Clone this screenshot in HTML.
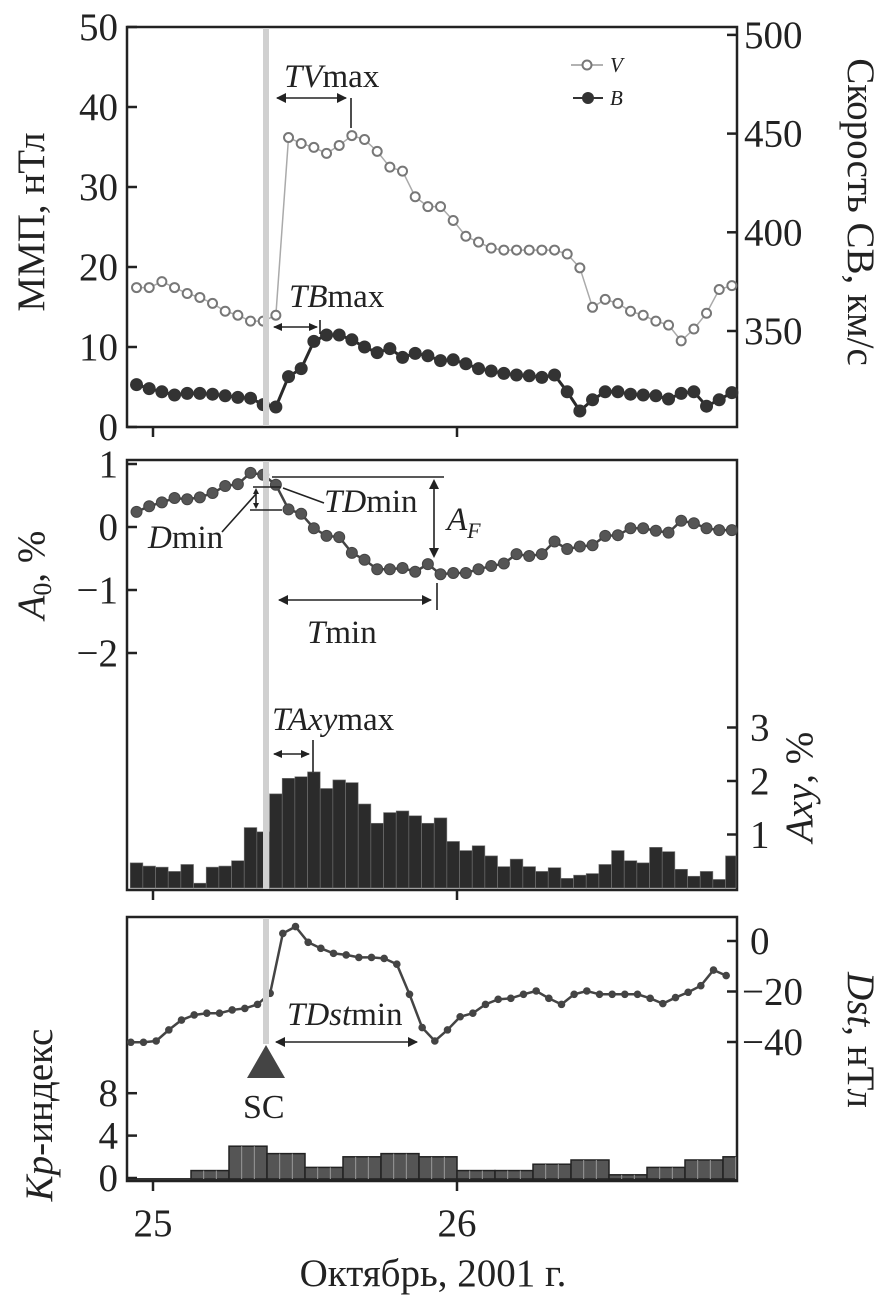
<!DOCTYPE html>
<html><head><meta charset="utf-8"><style>
html,body{margin:0;padding:0;background:#fff}
svg{display:block;font-family:"Liberation Serif",serif}
</style></head><body>
<svg id="chart" width="887" height="1301" viewBox="0 0 887 1301" xmlns="http://www.w3.org/2000/svg">
<g id="frames" fill="none" stroke="#222" stroke-width="2.5">
<rect x="127" y="27" width="610" height="400"/>
<rect x="127" y="460" width="610" height="430"/>
<rect x="127" y="917" width="610" height="264"/>
</g>
<g id="marks"></g>
<g id="sc-line" fill="#d0d0d0">
<rect x="263" y="28" width="6" height="398"/><rect x="263" y="461" width="6" height="428"/><rect x="263" y="918" width="6" height="126"/>
</g>
<g id="axes" font-size="39" fill="#222"></g>
<g stroke="#222" stroke-width="1.6" fill="none">
<line x1="277" y1="98" x2="346" y2="98"/><line x1="351" y1="98" x2="351" y2="128"/>
<line x1="274" y1="327" x2="317" y2="327"/><line x1="320" y1="320" x2="320" y2="334"/>
<line x1="272" y1="477" x2="444" y2="477"/><line x1="434" y1="481" x2="434" y2="556"/>
<line x1="253" y1="487" x2="281" y2="487"/><line x1="250" y1="510" x2="282" y2="510"/><line x1="256" y1="490" x2="256" y2="507"/>
<line x1="256" y1="494" x2="222" y2="532"/><line x1="283" y1="488" x2="324" y2="503"/>
<line x1="279" y1="600" x2="431" y2="600"/><line x1="437" y1="583" x2="437" y2="610"/>
<line x1="274" y1="754" x2="309" y2="754"/><line x1="313" y1="740" x2="313" y2="772"/>
<line x1="276" y1="1042" x2="417" y2="1042"/>
</g>
<g fill="#222">
<path d="M276 98l10-5v10z M347 98l-10-5v10z M273 327l9-4v8z M318 327l-9-4v8z M434 479l-5 10h10z M434 558l-5-10h10z M256 488l-3 6h6z M256 509l-3-6h6z M278 600l10-5v10z M432 600l-10-5v10z M273 754l9-4v8z M310 754l-9-4v8z M275 1042l10-5v10z M418 1042l-10-5v10z"/>
<path d="M266 1045l-19 33h38z" fill="#444"/>
</g>
<g font-size="33" fill="#222">
<text x="284" y="87"><tspan font-style="italic">TV</tspan>max</text>
<text x="289" y="307"><tspan font-style="italic">TB</tspan>max</text>
<text x="324" y="512"><tspan font-style="italic">TD</tspan>min</text>
<text x="148" y="548"><tspan font-style="italic">D</tspan>min</text>
<text x="447" y="530" font-style="italic">A<tspan font-size="22" dy="8">F</tspan></text>
<text x="307" y="643"><tspan font-style="italic">T</tspan>min</text>
<text x="272" y="730"><tspan font-style="italic">TAxy</tspan>max</text>
<text x="287" y="1025"><tspan font-style="italic">TDst</tspan>min</text>
<text x="243" y="1118" font-size="34">SC</text>
</g>
<g>
<line x1="571" y1="65" x2="603" y2="65" stroke="#999" stroke-width="1.5"/><circle cx="587" cy="65" r="4.5" fill="#fff" stroke="#777" stroke-width="2"/>
<text x="610" y="72" font-size="21" font-style="italic" fill="#222">V</text>
<line x1="573" y1="98" x2="603" y2="98" stroke="#333" stroke-width="2"/><circle cx="588" cy="98" r="6" fill="#333"/>
<text x="610" y="105" font-size="21" font-style="italic" fill="#222">B</text>
</g>
</svg>
<script>
const V = [372,372,375,372,369,367,364,360,358,355,355,358,448,445,443,440,444,449,447,441,433,431,418,413,413,406,398,395,392,391,391,391,391,391,389,382,362,366,364,360,358,355,353,345,351,359,371,373];
const B = [5.3,4.8,4.4,4.0,4.2,4.2,4.1,3.9,3.7,3.6,2.8,2.5,6.3,7.3,10.7,11.5,11.5,10.9,10.0,9.3,9.8,8.7,9.2,8.9,8.3,8.4,7.9,7.3,7.0,6.7,6.5,6.4,6.2,6.5,4.4,2.0,3.4,4.4,4.4,4.1,4.0,3.9,3.5,4.2,4.4,2.6,3.4,4.3];
const A0 = [0.24,0.33,0.39,0.46,0.44,0.47,0.54,0.65,0.68,0.86,0.83,0.67,0.28,0.21,-0.02,-0.14,-0.16,-0.41,-0.52,-0.67,-0.67,-0.65,-0.71,-0.59,-0.75,-0.73,-0.73,-0.67,-0.62,-0.58,-0.43,-0.46,-0.43,-0.23,-0.35,-0.31,-0.29,-0.14,-0.13,-0.02,-0.02,-0.06,-0.09,0.10,0.06,-0.02,-0.05,-0.05];
const Axy = [0.47,0.41,0.39,0.31,0.44,0.09,0.39,0.41,0.51,1.13,1.05,1.76,2.05,2.08,2.17,1.86,2.02,1.97,1.57,1.21,1.41,1.44,1.35,1.21,1.31,0.87,0.70,0.79,0.60,0.40,0.54,0.40,0.31,0.38,0.18,0.24,0.27,0.44,0.70,0.51,0.47,0.76,0.68,0.35,0.22,0.31,0.16,0.60];
const Dst = [-40.1,-40.1,-39.6,-35.2,-31.3,-29.3,-28.6,-28.6,-27.3,-26.7,-25.1,-20.7,3.0,5.7,-0.5,-2.9,-4.9,-5.5,-6.5,-6.5,-6.9,-9.2,-21.1,-34.3,-39.6,-35.2,-30.0,-28.6,-25.1,-23.1,-22.7,-21.1,-19.8,-22.7,-25.1,-21.1,-19.8,-21.1,-21.1,-21.1,-21.1,-22.7,-24.8,-22.4,-20.3,-17.7,-11.5,-13.7,-15.8];
const kpStart = [0,3,6,9,12,15,18,21,24,27,30,33,36,39,42,45];
const Kp = [0,0.7,3.0,2.3,1.0,2.0,2.3,2.0,0.7,0.7,1.3,1.7,0.3,1.0,1.7,2.0];
const xTicks = [25,26];
const imfTicks = [0,10,20,30,40,50];
const vTicks = [350,400,450,500];
const a0Ticks = [1,0,-1,-2];
const axyTicks = [1,2,3];
const dstTicks = [0,-20,-40];
const kpTicks = [0,4,8];

const NS = "http://www.w3.org/2000/svg";
const tx = t => 153 + t * 304 / 24;
const dx = d => 153 + (d - 25) * 304;
const yB = v => 427 - v * 8;
const yV = v => 331 - (v - 350) * 98.7 / 50;
const yA0 = v => 527 - v * 63;
const yAxy = v => 888 - v * 53.5;
const yDst = v => 941 - v * 2.525;
const yKp = v => 1178 - v * 10.6;
const tV = i => -1.3 + i;
const tD = i => -1.75 + i;

function mk(tag, attrs, parent) {
  const e = document.createElementNS(NS, tag);
  for (const k in attrs) e.setAttribute(k, attrs[k]);
  parent.appendChild(e);
  return e;
}
const marks = document.getElementById('marks');
const axes = document.getElementById('axes');

const gAxy = mk('g', {}, marks);


Axy.forEach((v, i) => {
  let x0 = Math.max(128, tx(tV(i) - 0.5)), x1 = Math.min(736, tx(tV(i) + 0.5));
  const r = mk('rect', {x: x0, y: yAxy(v), width: x1 - x0, height: 888 - yAxy(v), fill: '#2b2b2b', stroke: '#777', 'stroke-width': 0.6}, gAxy);
  
  
});
const gKp = mk('g', {}, marks);


mk('line', {x1: 128, y1: 1179, x2: 736, y2: 1179, stroke: '#333', 'stroke-width': 2}, gKp);
Kp.forEach((v, i) => {
  if (v <= 0) return;
  const x0 = tx(kpStart[i]), x1 = Math.min(736, tx(kpStart[i] + 3));
  const r = mk('rect', {x: x0, y: yKp(v), width: x1 - x0, height: 1179 - yKp(v), fill: '#555', stroke: '#222', 'stroke-width': 1.5}, gKp);
  
  
  for (let h = 1; h < 3; h++) { const xh = tx(kpStart[i] + h); if (xh < 736) mk('line', {x1: xh, y1: yKp(v), x2: xh, y2: 1179, stroke: '#999', 'stroke-width': 1}, gKp); }
});

function series(name, vals, tf, yf, opts) {
  const g = mk('g', {}, marks);
  
  
  const pts = vals.map((v, i) => [tf(i), yf(v)]).filter(p => tx(p[0]) >= 127 && tx(p[0]) <= 737);
  mk('polyline', {points: pts.map(p => tx(p[0]) + ',' + p[1]).join(' '), fill: 'none', stroke: opts.line, 'stroke-width': opts.lw}, g);
  pts.forEach(p => {
    const c = mk('circle', {cx: tx(p[0]), cy: p[1], r: opts.r, fill: opts.fill, stroke: opts.stroke, 'stroke-width': opts.sw}, g);
    
    
  });
}
series('series-v', V, tV, yV, {line: '#aaa', lw: 1.5, r: 4.5, fill: '#fff', stroke: '#777', sw: 2});
series('series-b', B, tV, yB, {line: '#2a2a2a', lw: 3, r: 6, fill: '#333', stroke: '#333', sw: 1});
series('series-a0', A0, tV, yA0, {line: '#444', lw: 2.5, r: 5.5, fill: '#555', stroke: '#444', sw: 1});
series('series-dst', Dst, tD, yDst, {line: '#444', lw: 2.5, r: 3.3, fill: '#444', stroke: '#444', sw: 1});

function tickL(y, label, name) {
  mk('line', {x1: 127, y1: y, x2: 137, y2: y, stroke: '#222', 'stroke-width': 2.5}, axes);
  const t = mk('text', {x: 118, y: y + 13, 'text-anchor': 'end'}, axes);
  t.textContent = label;
  
  
}
function tickR(y, label, name, xl) {
  mk('line', {x1: 727, y1: y, x2: 737, y2: y, stroke: '#222', 'stroke-width': 2.5}, axes);
  const t = mk('text', {x: xl, y: y + 13, 'text-anchor': 'start'}, axes);
  t.textContent = label;
  
  
}
const fmt = v => v < 0 ? '\u2212' + Math.abs(v) : String(v);
imfTicks.forEach(v => tickL(yB(v), v, 'imf-tick-label'));
vTicks.forEach(v => tickR(yV(v), v, 'v-tick-label', 744));
a0Ticks.forEach(v => tickL(yA0(v), fmt(v), 'a0-tick-label'));
axyTicks.forEach(v => tickR(yAxy(v), v, 'axy-tick-label', 750));
dstTicks.forEach(v => tickR(yDst(v), fmt(v), 'dst-tick-label', v === 0 ? 750 : 742));
kpTicks.forEach(v => tickL(yKp(v), v, 'kp-tick-label'));
xTicks.forEach(d => {
  mk('line', {x1: dx(d), y1: 427, x2: dx(d), y2: 437, stroke: '#222', 'stroke-width': 2.5}, axes);
  mk('line', {x1: dx(d), y1: 890, x2: dx(d), y2: 900, stroke: '#222', 'stroke-width': 2.5}, axes);
  mk('line', {x1: dx(d), y1: 1181, x2: dx(d), y2: 1191, stroke: '#222', 'stroke-width': 2.5}, axes);
  const t = mk('text', {x: dx(d), y: 1236, 'text-anchor': 'middle'}, axes);
  t.textContent = d;
  
  
});
function rotLabel(x, y, ang, html, name) {
  const t = mk('text', {x: 0, y: 0, transform: `translate(${x},${y}) rotate(${ang})`, 'text-anchor': 'middle'}, axes);
  t.innerHTML = html;
  
  
}
rotLabel(44, 222, -90, 'ММП, нТл', 'imf-axis-title');
rotLabel(848, 212, 90, 'Скорость СВ, км/с', 'v-axis-title');
rotLabel(44, 575, -90, '<tspan font-style="italic">A</tspan><tspan font-size="26" dy="7">0</tspan><tspan dy="-7">, %</tspan>', 'a0-axis-title');
rotLabel(812, 787, -90, '<tspan font-style="italic">Axy</tspan>, %', 'axy-axis-title');
rotLabel(848, 1040, 90, '<tspan font-style="italic">Dst</tspan>, нТл', 'dst-axis-title');
rotLabel(52, 1115, -90, '<tspan font-style="italic">Kp</tspan>-индекс', 'kp-axis-title');
const xt = mk('text', {x: 433, y: 1286, 'text-anchor': 'middle'}, axes);
xt.textContent = 'Октябрь, 2001 г.';


</script>
</body></html>
